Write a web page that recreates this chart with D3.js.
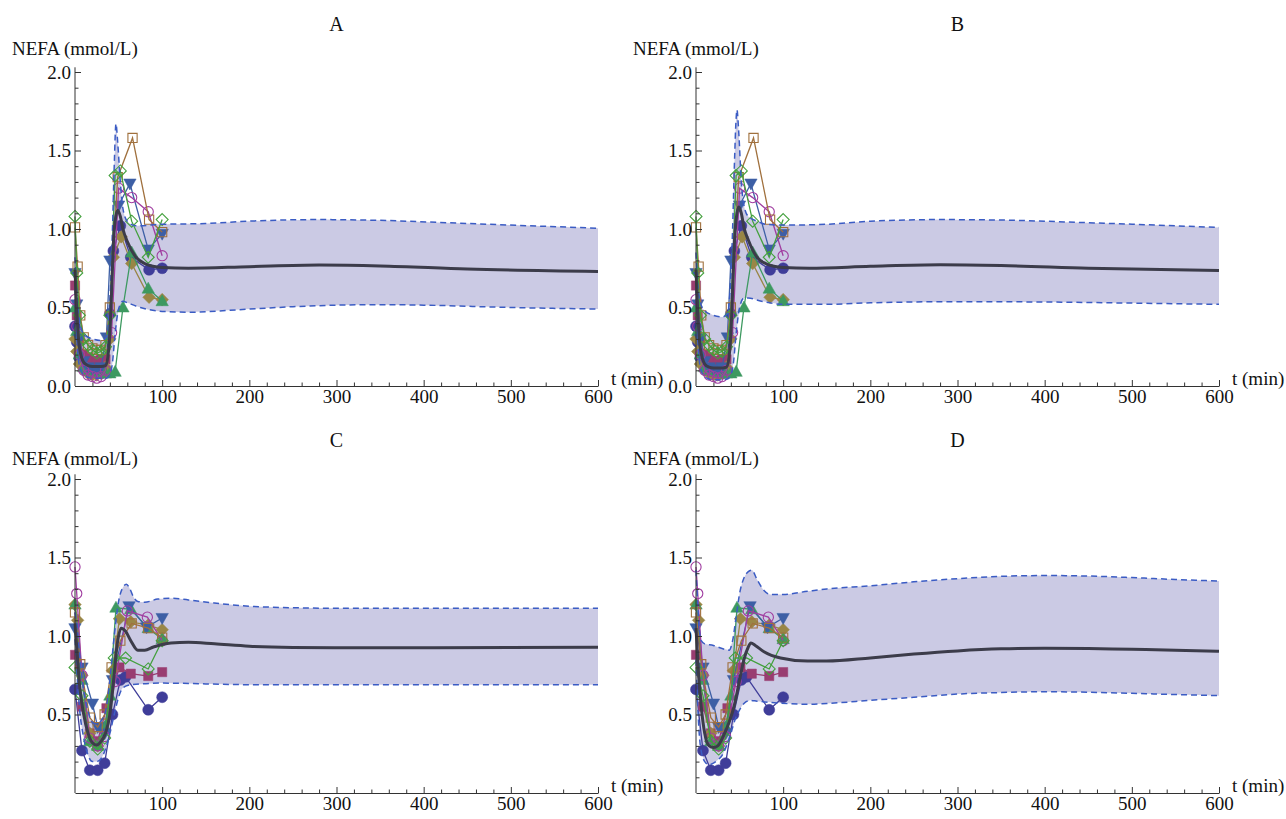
<!DOCTYPE html>
<html>
<head>
<meta charset="utf-8">
<script src="https://cdn.jsdelivr.net/npm/d3@7"></script>
<style>
  body { margin: 0; background: #fff; }
</style>
</head>
<body>
<div id="chart"></div>
<script>
// ---- model bands: [t (min), NEFA (mmol/L)] ----
var lowA = [[0,0.62],[2,0.32],[5,0.13],[10,0.07],[15,0.055],[20,0.05],[30,0.05],[36,0.05],[40,0.07],[43,0.15],[46,0.33],[50,0.49],[55,0.54],[60,0.53],[75,0.5],[100,0.475],[130,0.47],[200,0.49],[250,0.505],[300,0.515],[350,0.518],[400,0.515],[500,0.5],[600,0.49]];
var medA = [[0,0.74],[2,0.48],[5,0.25],[10,0.15],[15,0.13],[20,0.125],[30,0.125],[35,0.13],[38,0.2],[40,0.34],[42,0.6],[44,0.9],[46,1.05],[49,1.12],[52,1.08],[55,1.0],[60,0.92],[70,0.82],[80,0.78],[100,0.755],[130,0.75],[200,0.76],[280,0.77],[350,0.765],[450,0.745],[600,0.73]];
var upA  = [[0,0.82],[2,0.6],[5,0.42],[10,0.33],[20,0.3],[30,0.29],[36,0.31],[40,0.55],[43,1.0],[45,1.4],[47,1.67],[49,1.55],[52,1.3],[55,1.13],[60,1.05],[70,1.02],[100,1.03],[150,1.035],[200,1.05],[280,1.06],[350,1.055],[450,1.035],[600,1.005]];

var lowB = [[0,0.62],[2,0.3],[5,0.12],[10,0.06],[15,0.045],[20,0.04],[30,0.04],[36,0.045],[40,0.07],[43,0.15],[46,0.33],[50,0.5],[55,0.56],[60,0.56],[75,0.54],[100,0.52],[150,0.52],[200,0.53],[300,0.537],[400,0.535],[500,0.528],[600,0.52]];
var medB = [[0,0.74],[2,0.47],[5,0.24],[10,0.14],[15,0.12],[20,0.115],[30,0.115],[35,0.12],[38,0.19],[40,0.33],[42,0.6],[44,0.9],[46,1.06],[49,1.14],[52,1.1],[55,1.01],[60,0.93],[70,0.82],[80,0.78],[100,0.755],[130,0.75],[200,0.762],[280,0.772],[350,0.767],[450,0.75],[600,0.735]];
var upB  = [[0,0.85],[2,0.65],[5,0.53],[10,0.48],[20,0.45],[30,0.44],[36,0.46],[39,0.6],[42,1.0],[44,1.4],[46,1.7],[47,1.76],[49,1.62],[52,1.3],[55,1.15],[60,1.08],[70,1.05],[80,1.03],[100,1.025],[150,1.03],[200,1.05],[280,1.06],[350,1.057],[450,1.04],[600,1.01]];

var lowC = [[0,0.98],[3,0.7],[5,0.55],[10,0.35],[15,0.24],[20,0.2],[25,0.2],[30,0.22],[35,0.28],[40,0.38],[45,0.5],[50,0.61],[55,0.67],[65,0.69],[100,0.7],[150,0.695],[200,0.69],[600,0.69]];
var medC = [[0,1.08],[3,0.85],[5,0.7],[10,0.5],[15,0.38],[20,0.32],[25,0.305],[30,0.33],[35,0.38],[40,0.5],[44,0.7],[48,0.93],[53,1.05],[58,1.03],[64,0.97],[72,0.91],[80,0.91],[90,0.93],[110,0.955],[130,0.96],[160,0.95],[200,0.935],[250,0.927],[300,0.925],[600,0.928]];
var upC  = [[0,1.15],[3,1.02],[5,0.9],[10,0.66],[15,0.52],[20,0.45],[25,0.44],[30,0.46],[35,0.52],[40,0.72],[45,1.0],[50,1.22],[55,1.31],[59,1.33],[63,1.3],[67,1.25],[72,1.22],[80,1.215],[95,1.235],[110,1.24],[130,1.23],[160,1.21],[200,1.19],[250,1.18],[300,1.177],[600,1.177]];

var lowD = [[0,0.85],[2,0.55],[5,0.3],[10,0.2],[15,0.18],[20,0.19],[25,0.21],[30,0.24],[35,0.3],[40,0.38],[45,0.47],[50,0.53],[55,0.57],[62,0.59],[70,0.585],[90,0.575],[128,0.565],[150,0.57],[200,0.59],[250,0.61],[300,0.63],[350,0.64],[400,0.645],[450,0.642],[500,0.635],[550,0.627],[600,0.62]];
var medD = [[0,1.05],[3,0.75],[6,0.55],[10,0.38],[15,0.3],[20,0.29],[25,0.3],[32,0.37],[38,0.45],[44,0.56],[50,0.72],[55,0.85],[60,0.93],[63,0.955],[68,0.94],[78,0.9],[97,0.86],[128,0.84],[150,0.84],[200,0.86],[250,0.885],[300,0.905],[350,0.918],[400,0.922],[450,0.92],[500,0.915],[550,0.91],[600,0.903]];
var upD  = [[0,1.42],[2,1.2],[4,1.03],[6,0.97],[10,0.95],[20,0.94],[30,0.92],[38,0.91],[42,0.97],[46,1.12],[50,1.27],[55,1.37],[60,1.41],[64,1.42],[70,1.36],[78,1.29],[85,1.265],[100,1.265],[128,1.285],[150,1.3],[200,1.32],[250,1.345],[300,1.365],[350,1.38],[400,1.385],[450,1.382],[500,1.372],[550,1.36],[600,1.35]];

// ---- observed subjects, dataset 1 (panels A, B) ----
var s1Circle      = [[0,0.38],[2,0.28],[5,0.18],[10,0.11],[15,0.1],[20,0.09],[25,0.08],[30,0.08],[35,0.1],[40,0.46],[44,0.86],[52,1.02],[64,0.82],[85,0.74],[100,0.75]];
var s1Square      = [[0,0.64],[2,0.45],[5,0.3],[10,0.2],[15,0.18],[20,0.16],[25,0.16],[30,0.17],[35,0.17]];
var s1Diamond     = [[0,0.3],[2,0.22],[5,0.14],[10,0.1],[15,0.08],[20,0.07],[25,0.07],[30,0.08],[35,0.12],[40,0.3],[44,0.82],[53,0.95],[65,0.78],[85,0.565],[100,0.55]];
var s1TriUp       = [[0,0.5],[2,0.35],[5,0.2],[10,0.12],[15,0.1],[20,0.09],[25,0.09],[30,0.08],[35,0.08],[40,0.08],[46,0.09],[55,0.5],[65,0.85],[84,0.62],[100,0.54]];
var s1TriDown     = [[0,0.72],[2,0.52],[5,0.3],[10,0.16],[15,0.12],[20,0.11],[25,0.1],[30,0.12],[36,0.31],[40,0.8],[50,1.15],[63,1.29],[84,0.87],[100,0.97]];
var s1OpenCircle  = [[0,0.55],[2,0.38],[5,0.2],[10,0.1],[15,0.07],[20,0.06],[25,0.05],[30,0.06],[35,0.1],[42,0.34],[50,1.26],[65,1.2],[84,1.11],[100,0.83]];
var s1OpenSquare  = [[0,1.01],[3,0.76],[6,0.45],[10,0.31],[15,0.26],[20,0.24],[25,0.23],[30,0.23],[35,0.26],[40,0.5],[49,1.33],[66,1.58],[85,1.06],[100,0.98]];
var s1OpenDiamond = [[0,1.08],[2,0.72],[5,0.45],[10,0.3],[15,0.26],[20,0.23],[25,0.21],[30,0.22],[35,0.25],[40,0.45],[46,1.34],[52,1.37],[65,1.05],[84,0.82],[100,1.06]];

// ---- observed subjects, dataset 2 (panels C, D) ----
var s2Circle      = [[0,0.66],[8,0.27],[17,0.145],[26,0.145],[34,0.19],[43,0.5],[52,0.72],[58,0.74],[84,0.53],[100,0.61]];
var s2Square      = [[0,0.88],[8,0.55],[17,0.38],[26,0.33],[36,0.54],[51,0.8],[64,0.76],[84,0.745],[100,0.77]];
var s2Diamond     = [[0,1.2],[3,1.1],[8,0.75],[17,0.38],[26,0.3],[34,0.4],[43,0.78],[51,1.11],[64,1.09],[84,1.07],[100,1.04]];
var s2TriUp       = [[0,1.2],[8,0.72],[17,0.33],[26,0.3],[34,0.42],[40,0.62],[47,1.18],[64,1.17],[84,1.05],[100,0.98]];
var s2TriDown     = [[0,1.05],[8,0.8],[20,0.57],[26,0.42],[34,0.38],[43,0.72],[62,1.19],[82,1.055],[100,1.115]];
var s2OpenCircle  = [[0,1.44],[2,1.27],[8,0.75],[17,0.35],[26,0.3],[34,0.36],[46,0.71],[60,1.16],[83,1.12],[100,0.97]];
var s2OpenSquare  = [[0,1.15],[6,0.82],[17,0.48],[26,0.42],[34,0.5],[42,0.8],[52,0.97],[65,1.08],[84,1.05],[100,0.99]];
var s2OpenDiamond = [[0,0.8],[8,0.62],[17,0.33],[26,0.28],[34,0.35],[45,0.86],[58,0.86],[84,0.79],[100,0.97]];

var xTicks = [100, 200, 300, 400, 500, 600];
var yTicks = [0, 0.5, 1.0, 1.5, 2.0];
var panelTitles = ["A", "B", "C", "D"];

var serif = "'Liberation Serif', 'Times New Roman', Times, serif";

// marker styles in Mathematica order
var markers = [
  {shape: "circle",   fill: true,  color: "rgb(63,61,153)"},
  {shape: "square",   fill: true,  color: "rgb(153,61,113)"},
  {shape: "diamond",  fill: true,  color: "rgb(153,134,70)"},
  {shape: "triUp",    fill: true,  color: "rgb(61,153,96)"},
  {shape: "triDown",  fill: true,  color: "rgb(61,95,165)"},
  {shape: "circle",   fill: false, color: "rgb(160,61,160)"},
  {shape: "square",   fill: false, color: "rgb(160,112,61)"},
  {shape: "diamond",  fill: false, color: "rgb(67,160,61)"}
];
var set1 = [s1Circle, s1Square, s1Diamond, s1TriUp, s1TriDown, s1OpenCircle, s1OpenSquare, s1OpenDiamond];
var set2 = [s2Circle, s2Square, s2Diamond, s2TriUp, s2TriDown, s2OpenCircle, s2OpenSquare, s2OpenDiamond];

var panels = [
  {title: panelTitles[0], left: 75,  right: 598,  y0: 386, y2: 72,  band: [lowA, medA, upA], data: set1, zeroLabel: true,  titleY: 31,  labelY: 55},
  {title: panelTitles[1], left: 696, right: 1219, y0: 386, y2: 72,  band: [lowB, medB, upB], data: set1, zeroLabel: true,  titleY: 31,  labelY: 55},
  {title: panelTitles[2], left: 75,  right: 598,  y0: 793, y2: 479, band: [lowC, medC, upC], data: set2, zeroLabel: false, titleY: 447, labelY: 465},
  {title: panelTitles[3], left: 696, right: 1219, y0: 793, y2: 479, band: [lowD, medD, upD], data: set2, zeroLabel: false, titleY: 447, labelY: 465}
];

var svg = d3.select("#chart").append("svg")
    .attr("width", 1286)
    .attr("height", 819)
    .style("font-family", serif);

function symbolPath(shape, open) {
    var k = open ? 0.95 : 1;
    if (shape == "circle") return d3.symbol().type(d3.symbolCircle).size(open ? 82 : 95)();
    if (shape == "square") return d3.symbol().type(d3.symbolSquare).size(85)();
    if (shape == "diamond") { var r = 6.3 * k; return "M0," + (-r) + "L" + r + ",0L0," + r + "L" + (-r) + ",0Z"; }
    if (shape == "triUp") return "M0,-6.5L6.2,4.5L-6.2,4.5Z";
    return "M0,6.5L-6.2,-4.5L6.2,-4.5Z";
}

panels.forEach(function(p) {
    var x = d3.scaleLinear().domain([0, 600]).range([p.left, p.right]);
    var y = d3.scaleLinear().domain([0, 2]).range([p.y0, p.y2]);
    var g = svg.append("g");

    // band
    var low = p.band[0], med = p.band[1], up = p.band[2];
    var tAll = Array.from(new Set(low.map(function(d){return d[0];}).concat(up.map(function(d){return d[0];})))).sort(d3.ascending);
    var iLow = d3.scaleLinear().domain(low.map(function(d){return d[0];})).range(low.map(function(d){return d[1];}));
    var iUp = d3.scaleLinear().domain(up.map(function(d){return d[0];})).range(up.map(function(d){return d[1];}));
    var area = d3.area()
        .curve(d3.curveMonotoneX)
        .x(function(t) { return x(t); })
        .y0(function(t) { return y(iLow(t)); })
        .y1(function(t) { return y(iUp(t)); });
    g.append("path")
        .datum(tAll)
        .attr("d", area)
        .attr("fill", "#cbcae4");

    var line = d3.line()
        .curve(d3.curveMonotoneX)
        .x(function(d) { return x(d[0]); })
        .y(function(d) { return y(d[1]); });

    // subjects
    p.data.forEach(function(series, i) {
        var m = markers[i];
        g.append("path")
            .datum(series)
            .attr("d", d3.line().x(function(d){return x(d[0]);}).y(function(d){return y(d[1]);}))
            .attr("fill", "none")
            .attr("stroke", m.color)
            .attr("stroke-width", 1.3);
        g.selectAll(null)
            .data(series)
            .enter()
            .append("path")
            .attr("d", symbolPath(m.shape, !m.fill))
            .attr("transform", function(d) { return "translate(" + x(d[0]) + "," + y(d[1]) + ")"; })
            .attr("fill", m.fill ? m.color : "none")
            .attr("stroke", m.color)
            .attr("stroke-width", m.fill ? 0.5 : 1.1);
    });

    // bounds and median
    [low, up].forEach(function(b) {
        g.append("path")
            .datum(b)
            .attr("d", line)
            .attr("fill", "none")
            .attr("stroke", "#3b5cc4")
            .attr("stroke-width", 1.5)
            .attr("stroke-dasharray", "6,4");
    });
    g.append("path")
        .datum(med)
        .attr("d", line)
        .attr("fill", "none")
        .attr("stroke", "#3c3c4a")
        .attr("stroke-width", 3);

    // axes (ticks point inward like Mathematica)
    var xMinor = d3.range(20, 601, 20).filter(function(t) { return t % 100 != 0; });
    var yMinor = d3.range(1, 20).map(function(v) { return v / 10; }).filter(function(v) { return Math.round(v * 10) % 5 != 0; });

    var xa = g.append("g")
        .attr("transform", "translate(0," + p.y0 + ")")
        .call(d3.axisBottom(x).tickValues(xTicks).tickSize(-6).tickSizeOuter(0).tickPadding(3).tickFormat(d3.format("d")));
    g.append("g")
        .attr("transform", "translate(0," + p.y0 + ")")
        .call(d3.axisBottom(x).tickValues(xMinor).tickSize(-3.5).tickSizeOuter(0).tickFormat(""))
        .select(".domain").remove();

    var yVals = p.zeroLabel ? yTicks : yTicks.slice(1);
    var ya = g.append("g")
        .attr("transform", "translate(" + p.left + ",0)")
        .call(d3.axisLeft(y).tickValues(yVals).tickSize(-6).tickSizeOuter(0).tickPadding(4).tickFormat(d3.format(".1f")));
    g.append("g")
        .attr("transform", "translate(" + p.left + ",0)")
        .call(d3.axisLeft(y).tickValues(yMinor).tickSize(-3.5).tickSizeOuter(0).tickFormat(""))
        .select(".domain").remove();

    ya.select(".domain").remove();
    g.append("line")
        .attr("x1", p.left).attr("x2", p.left)
        .attr("y1", p.y0).attr("y2", y(2.03))
        .attr("stroke", "#333").attr("stroke-width", 1);

    g.selectAll("g").attr("font-family", serif);
    g.selectAll(".tick line").attr("stroke", "#333");
    xa.select(".domain").attr("stroke", "#333");
    g.selectAll(".tick text")
        .attr("font-family", serif)
        .attr("font-size", 19)
        .attr("fill", "#111");

    // labels
    g.append("text")
        .attr("x", (p.left + p.right) / 2)
        .attr("y", p.titleY)
        .attr("text-anchor", "middle")
        .attr("font-family", serif)
        .attr("font-size", 20)
        .attr("fill", "#111")
        .text(p.title);
    g.append("text")
        .attr("x", p.left - 63)
        .attr("y", p.labelY)
        .attr("font-family", serif)
        .attr("font-size", 19)
        .attr("fill", "#111")
        .text("NEFA (mmol/L)");
    g.append("text")
        .attr("x", p.right + 13)
        .attr("y", p.y0 - 1)
        .attr("font-family", serif)
        .attr("font-size", 19)
        .attr("fill", "#111")
        .text("t (min)");
});
</script>
</body>
</html>
